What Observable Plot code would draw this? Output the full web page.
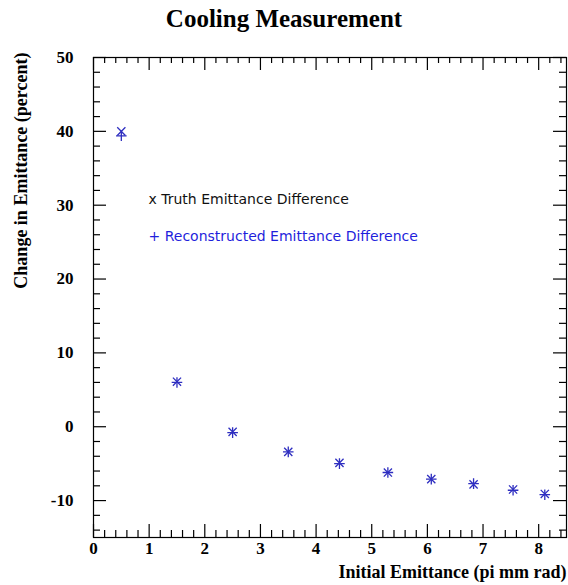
<!DOCTYPE html>
<html><head><meta charset="utf-8">
<script src="https://cdn.jsdelivr.net/npm/d3@7"></script>
<script src="https://cdn.jsdelivr.net/npm/@observablehq/plot@0.6"></script>
<style>
body{margin:0;background:#fff;}
#title{width:568px;height:40px;overflow:visible;text-align:center;font:bold 25px "Liberation Serif",serif;color:#000;}
#title span{display:block;position:relative;top:4px;line-height:30px;}
</style></head><body>
<div id="title"><span>Cooling Measurement</span></div>
<div id="chart"></div>
<script>
const emittance = [0.5, 1.5, 2.5, 3.5, 4.42, 5.29, 6.07, 6.83, 7.54, 8.11];
const truthDiff = [40.0, 6.1, -0.7, -3.4, -4.9, -6.2, -7.1, -7.8, -8.5, -9.1];
const recoDiff  = [39.4, 6.0, -0.8, -3.4, -5.0, -6.2, -7.1, -7.7, -8.6, -9.2];
const xTicks = [0, 1, 2, 3, 4, 5, 6, 7, 8];
const yTicks = [-10, 0, 10, 20, 30, 40, 50];
const xLabel = "Initial Emittance (pi mm rad)";
const yLabel = "Change in Emittance (percent)";
const legendTruth = "x Truth Emittance Difference";
const legendReco = "+ Reconstructed Emittance Difference";

const xMinor = d3.range(0, 43).filter(i => i % 5 !== 0).map(i => i / 5);
const yMinor = d3.range(-14, 50, 2).filter(v => v % 10 !== 0);

const rows = emittance.map((e, i) => ({e, truth: truthDiff[i], reco: recoDiff[i]}));

const W = 568, H = 545, mt = 17, mr = 2, mb = 48, ml = 93;
const fw = W - ml - mr, fh = H - mt - mb;
const blue = "#2e2ec0";
const serif = "Liberation Serif, Times New Roman, serif";
const sans = "DejaVu Sans, Verdana, sans-serif";

const chart = Plot.plot({
  width: W, height: H,
  marginTop: mt, marginRight: mr, marginBottom: mb, marginLeft: ml,
  style: {background: "#fff", fontFamily: serif},
  x: {domain: [0, 8.5]},
  y: {domain: [-15, 50]},
  marks: [
    Plot.frame({stroke: "#000", strokeWidth: 1.2}),
    Plot.tickX(xTicks, {x: d => d, insetTop: fh - 13, stroke: "#000", strokeWidth: 1.2}),
    Plot.tickX(xMinor, {x: d => d, insetTop: fh - 7, stroke: "#000", strokeWidth: 1.2}),
    Plot.tickX(xTicks, {x: d => d, insetBottom: fh - 13, stroke: "#000", strokeWidth: 1.2}),
    Plot.tickX(xMinor, {x: d => d, insetBottom: fh - 6, stroke: "#000", strokeWidth: 1.2}),
    Plot.tickY(yTicks, {y: d => d, insetRight: fw - 13, stroke: "#000", strokeWidth: 1.2}),
    Plot.tickY(yMinor, {y: d => d, insetRight: fw - 7, stroke: "#000", strokeWidth: 1.2}),
    Plot.tickY(yTicks, {y: d => d, insetLeft: fw - 13, stroke: "#000", strokeWidth: 1.2}),
    Plot.tickY(yMinor, {y: d => d, insetLeft: fw - 7, stroke: "#000", strokeWidth: 1.2}),
    Plot.axisX({ticks: xTicks, tickSize: 0, tickPadding: 4, tickFormat: d => String(d), label: null,
      fontSize: 17, fontWeight: "bold", fontFamily: serif, fill: "#000"}),
    Plot.axisY({ticks: yTicks, tickSize: 0, tickPadding: 20, tickFormat: d => String(d), label: null,
      fontSize: 17, fontWeight: "bold", fontFamily: serif, fill: "#000"}),
    Plot.dot(rows, {x: "e", y: "truth", symbol: "times", stroke: blue, strokeWidth: 1.3, r: 3.8}),
    Plot.dot(rows, {x: "e", y: "reco", symbol: "plus", stroke: blue, strokeWidth: 1.3, r: 3.5}),
    Plot.text([xLabel], {text: d => d, frameAnchor: "bottom-right", textAnchor: "end", dy: 40,
      fontSize: 18, fontWeight: "bold", fontFamily: serif, fill: "#000"}),
    Plot.text([yLabel], {text: d => d, frameAnchor: "top-left", textAnchor: "end", rotate: -90, dx: -79, dy: -5,
      fontSize: 18, fontWeight: "bold", fontFamily: serif, fill: "#000"}),
    Plot.text([legendTruth], {text: d => d, frameAnchor: "top-left", textAnchor: "start", dx: 55, dy: 137,
      fontSize: 14, fontFamily: sans, fill: "#111"}),
    Plot.text([legendReco], {text: d => d, frameAnchor: "top-left", textAnchor: "start", dx: 55, dy: 174,
      fontSize: 14, fontFamily: sans, fill: "#1f1fdc"})
  ]
});
document.getElementById("chart").appendChild(chart);
</script>
</body></html>
